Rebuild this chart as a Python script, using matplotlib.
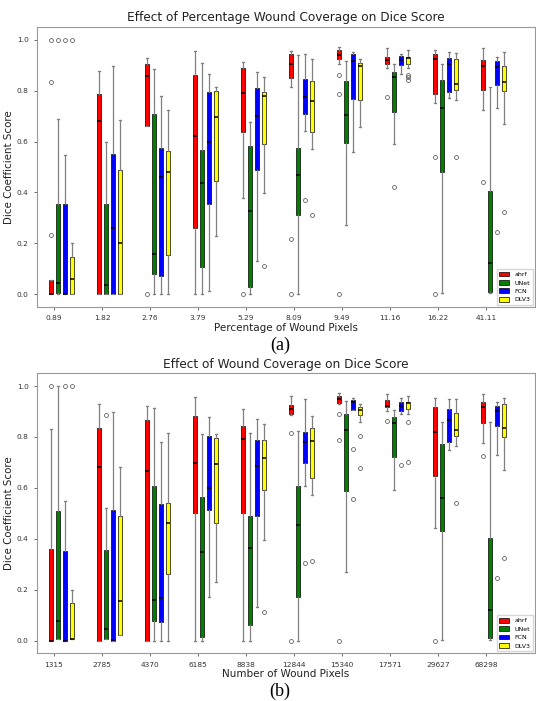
import numpy as np
import matplotlib
matplotlib.use("Agg")
import matplotlib.pyplot as plt

models = ["ahrf", "UNet", "FCN", "DLV3"]
colors = ["red", "green", "blue", "yellow"]

# panel (a): percentage of wound pixels, rows = models, columns = groups
pct_labels = ["0.89", "1.82", "2.76", "3.79", "5.29", "8.09", "9.49", "11.16", "16.22", "41.11"]
pct_whislo = [[0, 0, 0.663, 0, 0.377, 0.814, 0.904, 0.887, 0.751, 0.723],
              [0, 0, 0, 0, 0, 0, 0.271, 0.591, 0.004, 0.004],
              [0, 0, 0, 0.013, 0.13, 0.641, 0.557, 0.865, 0.772, 0.731],
              [0, 0, 0, 0.228, 0.398, 0.57, 0.657, 0.889, 0.763, 0.67]]
pct_q1 = [[0, 0, 0.663, 0.262, 0.637, 0.848, 0.923, 0.906, 0.785, 0.802],
          [0.004, 0, 0.079, 0.109, 0.028, 0.311, 0.594, 0.718, 0.482, 0.01],
          [0, 0, 0.073, 0.353, 0.49, 0.709, 0.767, 0.902, 0.793, 0.823],
          [0, 0, 0.155, 0.446, 0.591, 0.637, 0.763, 0.904, 0.803, 0.798]]
pct_med = [[0, 0.68, 0.856, 0.621, 0.79, 0.903, 0.941, 0.921, 0.924, 0.896],
           [0.043, 0.037, 0.16, 0.439, 0.326, 0.468, 0.705, 0.853, 0.73, 0.122],
           [0, 0.262, 0.46, 0.598, 0.7, 0.776, 0.917, 0.919, 0.904, 0.891],
           [0.06, 0.2, 0.482, 0.697, 0.78, 0.759, 0.896, 0.929, 0.826, 0.834]]
pct_q3 = [[0.056, 0.788, 0.906, 0.861, 0.889, 0.942, 0.961, 0.934, 0.944, 0.919],
          [0.355, 0.355, 0.709, 0.565, 0.581, 0.574, 0.839, 0.875, 0.843, 0.406],
          [0.353, 0.552, 0.573, 0.796, 0.81, 0.845, 0.944, 0.937, 0.93, 0.915],
          [0.148, 0.49, 0.561, 0.8, 0.793, 0.839, 0.908, 0.932, 0.924, 0.896]]
pct_whishi = [[0.056, 0.878, 0.928, 0.957, 0.913, 0.957, 0.97, 0.967, 0.958, 0.967],
              [0.688, 0.598, 0.885, 0.91, 0.676, 0.941, 0.917, 0.904, 0.904, 0.813],
              [0.547, 0.898, 0.78, 0.865, 0.873, 0.944, 0.952, 0.944, 0.952, 0.934],
              [0.2, 0.684, 0.722, 0.815, 0.853, 0.924, 0.924, 0.961, 0.946, 0.952]]
pct_fliers = [[[1.0, 0.832, 0.231], [], [0.0], [], [0.0], [0.219, 0.0], [0.86, 0.785, 0.0], [0.775], [0.541, 0.0], [0.443]],
              [[1.0], [], [], [], [], [], [], [0.423], [], []],
              [[1.0], [], [], [], [], [0.371], [], [], [], [0.246]],
              [[1.0], [], [], [], [0.113], [0.312], [], [0.86, 0.852, 0.843], [0.541], [0.325]]]

# panel (b): number of wound pixels
num_labels = ["1315", "2785", "4370", "6185", "8838", "12844", "15340", "17571", "29627", "68298"]
num_whislo = [[0, 0, 0, 0, 0, 0.886, 0.928, 0.9, 0.443, 0.777],
              [0.005, 0.005, 0, 0, 0, 0, 0.27, 0.59, 0.003, 0.003],
              [0, 0, 0, 0.172, 0.13, 0.608, 0.906, 0.891, 0.747, 0.73],
              [0.005, 0.02, 0, 0.231, 0.397, 0.571, 0.86, 0.891, 0.763, 0.671]]
num_q1 = [[0, 0, 0, 0.502, 0.502, 0.891, 0.934, 0.919, 0.646, 0.855],
          [0.005, 0.005, 0.077, 0.014, 0.063, 0.17, 0.587, 0.72, 0.429, 0.01],
          [0, 0, 0.072, 0.511, 0.491, 0.697, 0.906, 0.903, 0.779, 0.841],
          [0.005, 0.02, 0.26, 0.461, 0.592, 0.64, 0.885, 0.908, 0.805, 0.801]]
num_med = [[0, 0.681, 0.666, 0.697, 0.793, 0.908, 0.95, 0.923, 0.818, 0.919],
           [0.077, 0.045, 0.159, 0.349, 0.363, 0.453, 0.826, 0.853, 0.561, 0.121],
           [0, 0.003, 0.168, 0.598, 0.684, 0.78, 0.938, 0.923, 0.866, 0.903],
           [0.007, 0.156, 0.461, 0.695, 0.716, 0.785, 0.907, 0.933, 0.827, 0.837]]
num_q3 = [[0.358, 0.837, 0.868, 0.881, 0.843, 0.925, 0.962, 0.946, 0.919, 0.937],
          [0.51, 0.355, 0.606, 0.565, 0.488, 0.606, 0.891, 0.878, 0.772, 0.401],
          [0.353, 0.511, 0.537, 0.805, 0.786, 0.818, 0.945, 0.938, 0.911, 0.923],
          [0.148, 0.49, 0.539, 0.796, 0.786, 0.836, 0.919, 0.936, 0.895, 0.928]]
num_whishi = [[0.831, 0.931, 0.92, 0.958, 0.911, 0.959, 0.972, 0.97, 0.954, 0.97],
              [1.0, 0.522, 0.912, 0.81, 0.817, 0.824, 0.941, 0.907, 0.86, 0.857],
              [0.549, 0.899, 0.781, 0.877, 0.869, 0.948, 0.954, 0.954, 0.949, 0.938],
              [0.2, 0.683, 0.817, 0.81, 0.851, 0.881, 0.928, 0.962, 0.949, 0.954]]
num_fliers = [[[1.0], [], [], [], [], [0.815, 0.0], [0.889, 0.786, 0.0], [0.862], [0.0], [0.725]],
              [[], [0.885], [], [], [], [], [], [], [], []],
              [[1.0], [], [], [], [], [0.304], [0.751, 0.557], [0.689], [], [0.245]],
              [[1.0], [], [], [], [0.114], [0.312], [0.803, 0.679], [0.86, 0.7], [0.54], [0.326]]]


def draw_panel(ax, labels, whislo, q1, med, q3, whishi, fliers, title, xlabel):
    boxes = []
    for k in range(len(models)):
        stats = []
        for i in range(len(labels)):
            stats.append({"whislo": whislo[k][i], "q1": q1[k][i], "med": med[k][i],
                          "q3": q3[k][i], "whishi": whishi[k][i], "fliers": fliers[k][i]})
        pos = np.arange(len(labels)) + (k - 0.45) * 0.144
        bp = ax.bxp(stats, positions=pos, widths=0.085, patch_artist=True, manage_ticks=False,
                    boxprops=dict(facecolor=colors[k], edgecolor="black", linewidth=0.5),
                    medianprops=dict(color="black", linewidth=1.1),
                    whiskerprops=dict(color="gray", linewidth=0.9),
                    capprops=dict(color="gray", linewidth=0.9),
                    flierprops=dict(marker="o", markersize=2.8, markerfacecolor="none",
                                    markeredgecolor="#444444", markeredgewidth=0.5))
        boxes.append(bp["boxes"][0])
    ax.set_xticks(np.arange(len(labels)))
    ax.set_xticklabels(labels)
    ax.set_xlim(-0.354, 10.02)
    ax.set_ylim(-0.05, 1.05)
    ax.set_yticks(np.arange(0, 1.01, 0.2))
    ax.tick_params(labelsize=5.3, colors="#333333", length=2.5, width=0.5)
    for s in ax.spines.values():
        s.set_color("#999999")
        s.set_linewidth(0.8)
    ax.set_title(title, fontsize=8.7, color="#222222", pad=4)
    ax.set_xlabel(xlabel, fontsize=7.5, color="#222222", labelpad=1)
    ax.set_ylabel("Dice Coefficient Score", fontsize=7.4, color="#222222")
    ax.yaxis.set_label_coords(-0.046, 0.5)
    ax.legend(boxes, models, loc="lower right", fontsize=4.5, handlelength=1.6,
              handleheight=0.8, labelspacing=0.45, borderpad=0.45, borderaxespad=0.3,
              fancybox=False, edgecolor="#cccccc")


fig = plt.figure(figsize=(5.36, 7.01), dpi=100)
ax1 = fig.add_axes([37 / 536, 1 - 307 / 701, 498 / 536, 280 / 701])
ax2 = fig.add_axes([37 / 536, 1 - 653.3 / 701, 498 / 536, 280 / 701])

draw_panel(ax1, pct_labels, pct_whislo, pct_q1, pct_med, pct_q3, pct_whishi, pct_fliers,
           "Effect of Percentage Wound Coverage on Dice Score", "Percentage of Wound Pixels")
draw_panel(ax2, num_labels, num_whislo, num_q1, num_med, num_q3, num_whishi, num_fliers,
           "Effect of Wound Coverage on Dice Score", "Number of Wound Pixels")

fig.text(280 / 536, 1 - 345 / 701, "(a)", ha="center", va="center", fontsize=13, family="Liberation Serif")
fig.text(280 / 536, 1 - 691 / 701, "(b)", ha="center", va="center", fontsize=13, family="Liberation Serif")

fig.savefig("out.png", dpi=100)
